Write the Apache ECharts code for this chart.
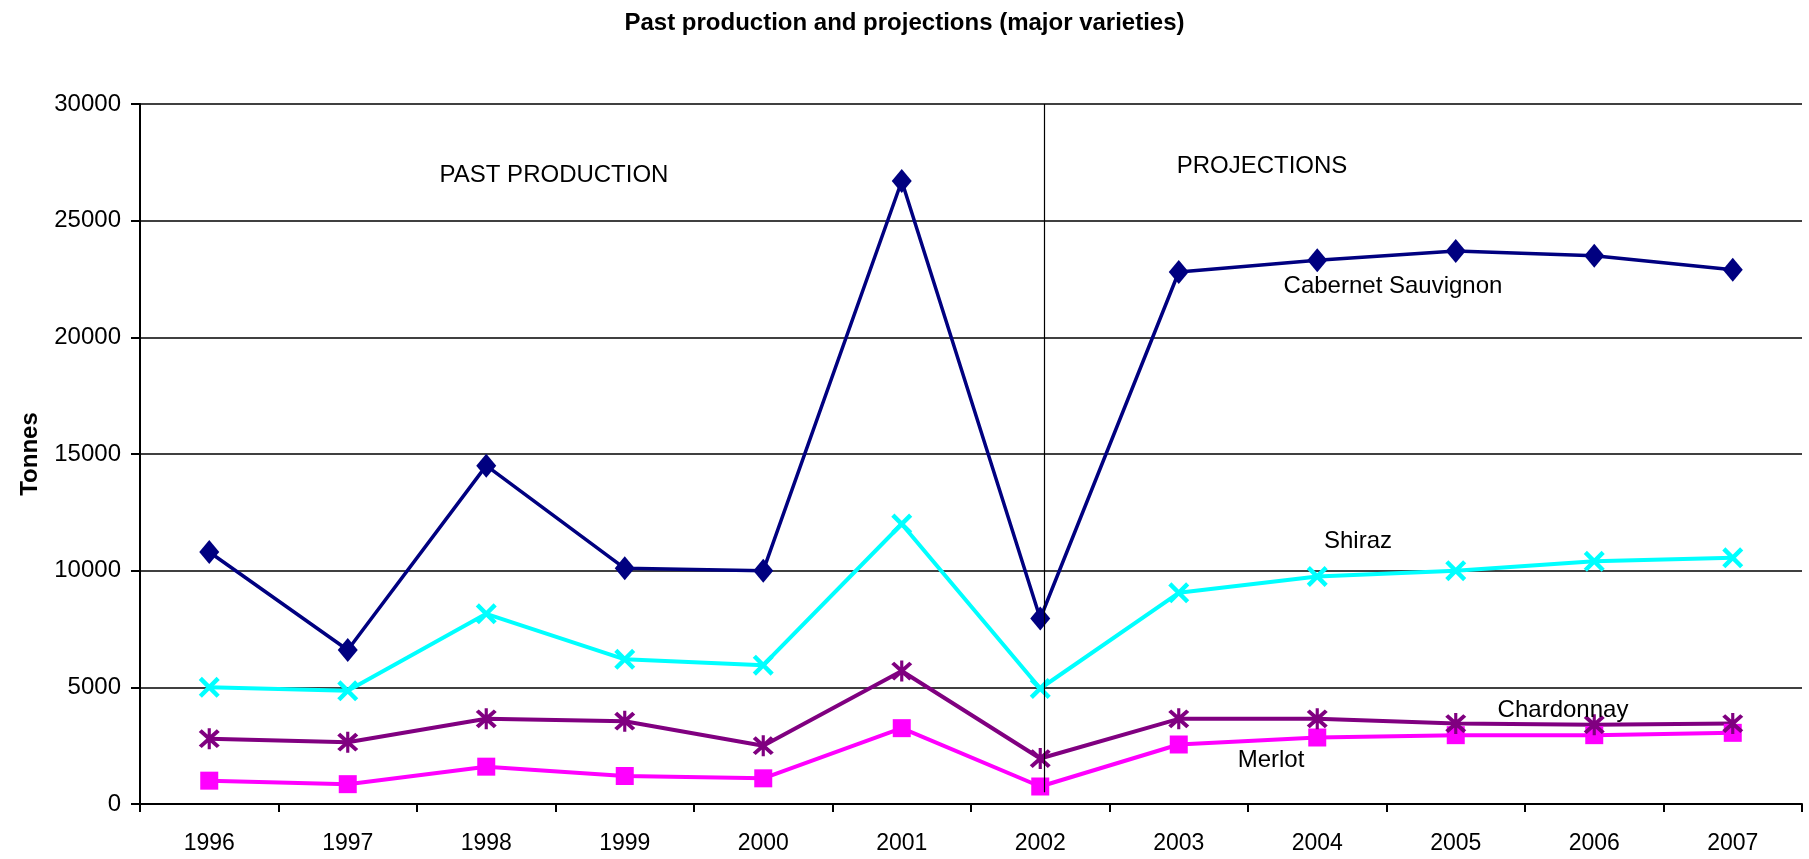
<!DOCTYPE html>
<html>
<head>
<meta charset="utf-8">
<title>Past production and projections</title>
<script src="https://cdn.jsdelivr.net/npm/echarts@6/dist/echarts.min.js"></script>
<style>
  html, body { margin: 0; padding: 0; background: #fff; }
  #chart { width: 1809px; height: 859px; }
</style>
</head>
<body>
<div id="chart"></div>
<script>
const years = ["1996", "1997", "1998", "1999", "2000", "2001", "2002", "2003", "2004", "2005", "2006", "2007"]

// tonnes
const cabernet = [10800, 6600, 14500, 10100, 10000, 26700, 7950, 22800, 23300, 23700, 23500, 22900]
const shiraz = [5000, 4850, 8150, 6200, 5950, 12000, 4950, 9050, 9750, 10000, 10400, 10550]
const chardonnay = [2800, 2650, 3650, 3550, 2500, 5700, 1950, 3650, 3650, 3450, 3400, 3450]
const merlot = [1000, 850, 1600, 1200, 1100, 3250, 750, 2550, 2850, 2950, 2950, 3050]

// divider between past and projected years (position on a 0..12 year scale)
const dividerAt = 6.53
const dividerFrom = 500
const dividerTo = 30000

const FONT = "Liberation Sans, Arial, sans-serif"

// marker shapes
const CROSS = "path://M0,1.5L1.5,0L10,8.5L8.5,10Z M8.5,0L10,1.5L1.5,10L0,8.5Z"
const STAR = "path://M0,1.4L1.4,0L10,8.6L8.6,10Z M8.6,0L10,1.4L1.4,10L0,8.6Z M4.25,-0.6L5.75,-0.6L5.75,10.6L4.25,10.6Z"

function lineSeries(name, data, color, symbol, size, width) {
  return {
    name,
    type: "line",
    data,
    symbol,
    symbolSize: size,
    lineStyle: { color, width },
    itemStyle: { color },
    emphasis: { disabled: true },
  }
}

const chart = echarts.init(document.getElementById("chart"))

chart.setOption({
  animation: false,
  textStyle: { fontFamily: FONT },
  title: {
    text: "Past production and projections (major varieties)",
    left: "center",
    top: 6,
    textStyle: { fontSize: 24, fontWeight: "bold", color: "#000", fontFamily: FONT },
  },
  grid: { left: 140, right: 7, top: 104, bottom: 55 },
  xAxis: [
    {
      type: "category",
      data: years,
      boundaryGap: true,
      axisLine: { lineStyle: { color: "#000", width: 2 } },
      axisTick: { show: true, length: 8, lineStyle: { color: "#000", width: 2 } },
      axisLabel: { color: "#000", fontSize: 23, margin: 28, fontFamily: FONT },
      splitLine: { show: false },
    },
    { type: "value", min: 0, max: 12, show: false },
  ],
  yAxis: {
    type: "value",
    min: 0,
    max: 30000,
    interval: 5000,
    name: "Tonnes",
    nameLocation: "middle",
    nameGap: 98,
    nameTextStyle: { fontSize: 24, fontWeight: "bold", color: "#000", fontFamily: FONT },
    axisLine: { show: true, lineStyle: { color: "#000", width: 2 } },
    axisTick: { show: true, length: 9, lineStyle: { color: "#000", width: 2 } },
    axisLabel: { color: "#000", fontSize: 24, margin: 19, fontFamily: FONT, formatter: v => String(v) },
    splitLine: { show: true, lineStyle: { color: "#000", width: 1.5 } },
  },
  series: [
    {
      type: "line",
      xAxisIndex: 1,
      data: [],
      silent: true,
      markLine: {
        silent: true,
        symbol: "none",
        label: { show: false },
        lineStyle: { color: "#000", width: 1.2, type: "solid" },
        data: [[{ coord: [dividerAt, dividerTo] }, { coord: [dividerAt, dividerFrom] }]],
      },
    },
    lineSeries("Shiraz", shiraz, "#00FFFF", CROSS, 21, 4),
    lineSeries("Merlot", merlot, "#FF00FF", "rect", 18, 4),
    lineSeries("Chardonnay", chardonnay, "#800080", STAR, 21, 4),
    lineSeries("Cabernet Sauvignon", cabernet, "#000080", "diamond", [20, 24], 3.5),
  ],
  graphic: [
    { type: "text", x: 554, y: 175, style: { text: "PAST PRODUCTION", font: "24px " + FONT, fill: "#000", textAlign: "center", textVerticalAlign: "middle" } },
    { type: "text", x: 1262, y: 166, style: { text: "PROJECTIONS", font: "24px " + FONT, fill: "#000", textAlign: "center", textVerticalAlign: "middle" } },
    { type: "text", x: 1393, y: 286, style: { text: "Cabernet Sauvignon", font: "24px " + FONT, fill: "#000", textAlign: "center", textVerticalAlign: "middle" } },
    { type: "text", x: 1358, y: 541, style: { text: "Shiraz", font: "24px " + FONT, fill: "#000", textAlign: "center", textVerticalAlign: "middle" } },
    { type: "text", x: 1563, y: 710, z: 100, style: { text: "Chardonnay", font: "24px " + FONT, fill: "#000", textAlign: "center", textVerticalAlign: "middle" } },
    { type: "text", x: 1271, y: 760, style: { text: "Merlot", font: "24px " + FONT, fill: "#000", textAlign: "center", textVerticalAlign: "middle" } },
  ],
})
</script>
</body>
</html>
